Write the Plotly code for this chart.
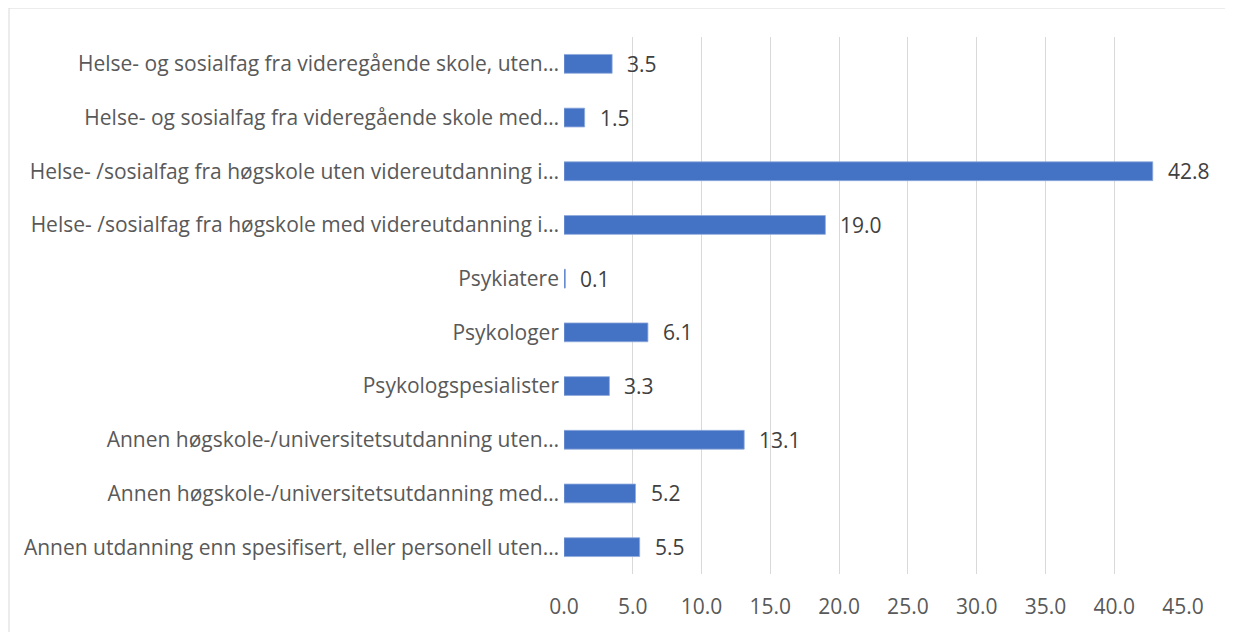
import plotly.graph_objects as go

categories = [
    "Helse- og sosialfag fra videregående skole, uten…",
    "Helse- og sosialfag fra videregående skole med…",
    "Helse- /sosialfag fra høgskole uten videreutdanning i…",
    "Helse- /sosialfag fra høgskole med videreutdanning i…",
    "Psykiatere",
    "Psykologer",
    "Psykologspesialister",
    "Annen høgskole-/universitetsutdanning uten…",
    "Annen høgskole-/universitetsutdanning med…",
    "Annen utdanning enn spesifisert, eller personell uten…",
]
values = [3.5, 1.5, 42.8, 19.0, 0.1, 6.1, 3.3, 13.1, 5.2, 5.5]
tick_vals = [0, 5, 10, 15, 20, 25, 30, 35, 40, 45]
tick_text = ["0.0", "5.0", "10.0", "15.0", "20.0", "25.0", "30.0", "35.0", "40.0", "45.0"]

FONT = "Open Sans"
FS = 21

fig = go.Figure()
fig.add_trace(go.Bar(
    x=values, y=categories, orientation="h",
    marker=dict(color="#4472C4", line=dict(color="#8FAADC", width=0.8)),
    width=0.35, hoverinfo="x+y",
))

for v, c in zip(values, categories):
    fig.add_annotation(
        x=v, y=c, text=f"{v:.1f}", showarrow=False,
        xanchor="left", yanchor="middle", xshift=13,
        font=dict(family=FONT, size=FS, color="#404040"),
    )

fig.add_shape(
    type="rect", xref="paper", yref="paper",
    x0=-0.8966, x1=1.0784, y0=-0.2, y1=1.054,
    line=dict(color="#D9D9D9", width=1), fillcolor="rgba(0,0,0,0)", layer="below",
)

fig.update_layout(
    width=1225, height=624,
    margin=dict(l=556, r=50, t=29, b=58),
    paper_bgcolor="white", plot_bgcolor="white",
    showlegend=False,
    font=dict(family=FONT, size=FS, color="#595959"),
    xaxis=dict(
        range=[0, 45], tickvals=tick_vals, ticktext=tick_text,
        showgrid=True, gridcolor="#D9D9D9", gridwidth=1.2,
        zeroline=False, showline=False, ticks="",
        ticklabelstandoff=18,
        tickfont=dict(family=FONT, size=FS, color="#595959"),
    ),
    yaxis=dict(
        categoryorder="array", categoryarray=categories,
        range=[9.5, -0.5], showgrid=False, zeroline=False, showline=False,
        ticks="", ticklabelstandoff=4,
        tickfont=dict(family=FONT, size=FS, color="#595959"),
    ),
)

fig.write_html("out.html")
